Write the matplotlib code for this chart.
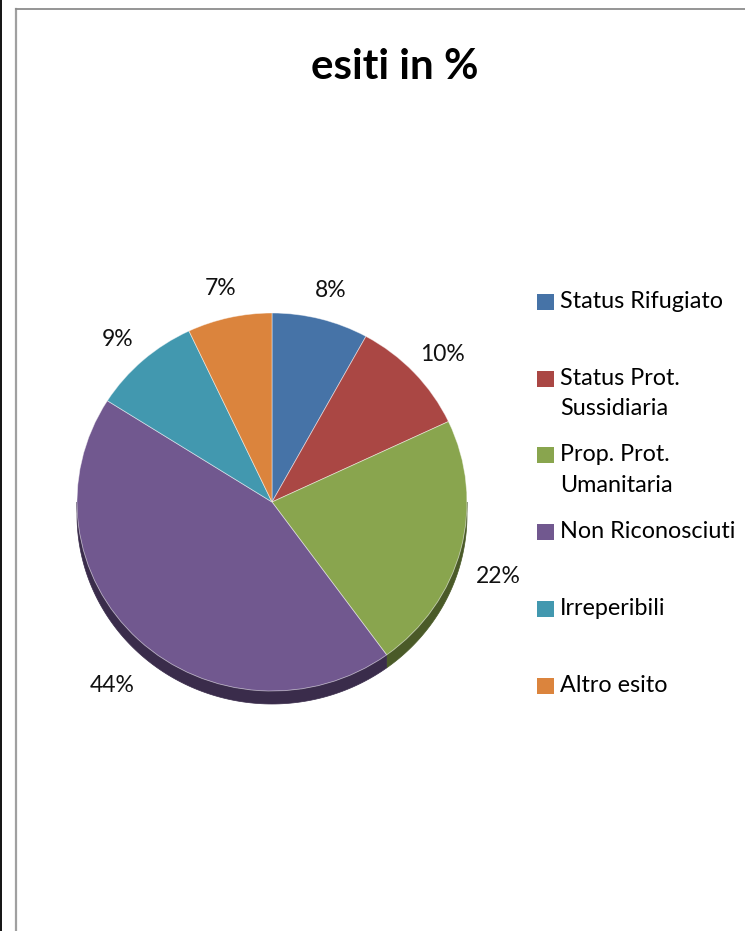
import numpy as np
import matplotlib
matplotlib.use("Agg")
import matplotlib.pyplot as plt
from matplotlib.patches import Polygon, Rectangle
from matplotlib.lines import Line2D

# Outcome shares (percent)
categories = ["Status Rifugiato", "Status Prot.\nSussidiaria", "Prop. Prot.\nUmanitaria",
              "Non Riconosciuti", "Irreperibili", "Altro esito"]
values = [8, 10, 22, 44, 9, 7]
colors = ["#4673A7", "#AA4744", "#89A54E", "#71588F", "#4298AF", "#DB843D"]
side_colors = ["#2A4568", "#6A2B29", "#4A5A28", "#3A2C4B", "#24566A", "#8A5020"]
title = "esiti in %"

W, H = 745, 931
DPI = 100
fig = plt.figure(figsize=(W / DPI, H / DPI), dpi=DPI)
fig.patch.set_facecolor("white")

FONT = "Lato"

# pixel-based axes; y is squashed slightly to give the tilted look
k = 189 / 195
ax = fig.add_axes([0, 0, 1, 1])
cx, cy_px, R = 272, 502, 195
cy = (H - cy_px) / k
depth_px = 13
depth = depth_px / k

wedges, _, autotexts = ax.pie(
    values, colors=colors, startangle=90, counterclock=False,
    center=(cx, cy), radius=R,
    autopct=lambda p: f"{p:.0f}%", pctdistance=1.2,
    wedgeprops=dict(linewidth=0.6, edgecolor=(1, 1, 1, 0.5), zorder=3),
    textprops=dict(fontsize=16.5, family=FONT, color="#111111"),
)
ax.set_aspect("auto")
ax.set_xlim(0, W)
ax.set_ylim(0, H / k)
ax.axis("off")

# labels sit a little lower; those on the front also clear the pie's side wall
for t in autotexts:
    x, y = t.get_position()
    shift = 8 + (10 if y < cy else 0)
    t.set_position((x, y - shift / k))

# side walls of the pie for the lower half
for w, sc in zip(wedges, side_colors):
    t1, t2 = w.theta1, w.theta2
    for lo, hi in [(-180, 0), (180, 360), (-540, -360)]:
        a, b = max(t1, lo), min(t2, hi)
        if b <= a:
            continue
        t = np.radians(np.linspace(a, b, 120))
        top = np.column_stack([cx + R * np.cos(t), cy + R * np.sin(t)])
        bot = np.column_stack([cx + R * np.cos(t[::-1]), cy - depth + R * np.sin(t[::-1])])
        ax.add_patch(Polygon(np.vstack([top, bot]), closed=True, facecolor=sc,
                             edgecolor=sc, linewidth=0.5, zorder=2))

# chart title
fig.text(395 / W, 1 - 67 / H, title, ha="center", va="center",
         fontsize=30.3, fontweight="bold", family=FONT, color="black")

# legend
leg_y0, leg_dy = 302, 76.7
for i, (lab, c) in enumerate(zip(categories, colors)):
    yc = leg_y0 + i * leg_dy
    fig.patches.append(Rectangle((537 / W, 1 - (yc + 8) / H), 17 / W, 16 / H,
                                 transform=fig.transFigure, facecolor=c,
                                 edgecolor="none", figure=fig))
    fig.text(560 / W, 1 - (yc - 11) / H, lab, ha="left", va="top",
             fontsize=16.8, family=FONT, color="black", linespacing=1.55)

# chart frame
fig.add_artist(Line2D([1 / W, 1 / W], [0, 1], transform=fig.transFigure,
                      color="black", linewidth=1.3))
fig.add_artist(Line2D([16 / W, 16 / W], [0, 1 - 8.5 / H], transform=fig.transFigure,
                      color="#a0a0a0", linewidth=1.6))
fig.add_artist(Line2D([16 / W, 1], [1 - 8.5 / H, 1 - 8.5 / H], transform=fig.transFigure,
                      color="#8c8c8c", linewidth=1.3))

fig.savefig("out.png", dpi=DPI)
